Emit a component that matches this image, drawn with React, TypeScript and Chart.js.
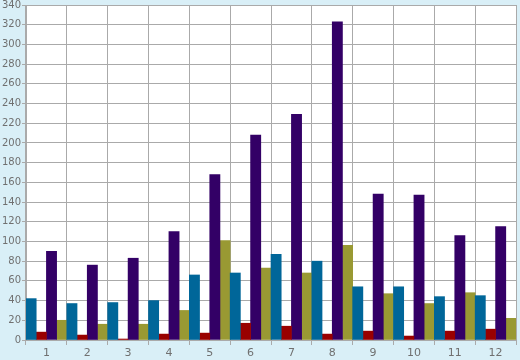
import React, { useEffect, useRef } from "react";
import { Chart, registerables } from "chart.js";

Chart.register(...registerables);

const categories = ["1", "2", "3", "4", "5", "6", "7", "8", "9", "10", "11", "12"];
const seriesBlue = [42, 37, 38, 40, 66, 68, 87, 80, 54, 54, 44, 45];
const seriesRed = [8, 5, 1, 6, 7, 17, 14, 6, 9, 4, 9, 11];
const seriesPurple = [90, 76, 83, 110, 168, 208, 229, 323, 148, 147, 106, 115];
const seriesOlive = [20, 16, 16, 30, 101, 73, 68, 96, 47, 37, 48, 22];

const plotBg = {
  id: "plotBg",
  beforeDraw(chart: any) {
    const { ctx, chartArea } = chart;
    if (!chartArea) return;
    ctx.save();
    ctx.fillStyle = "#ffffff";
    ctx.fillRect(chartArea.left, chartArea.top, chartArea.right - chartArea.left, chartArea.bottom - chartArea.top);
    ctx.restore();
  },
};

export default function App() {
  const ref = useRef<HTMLCanvasElement>(null);
  useEffect(() => {
    if (!ref.current) return;
    const gridColor = "#aaaaaa";
    const chart = new Chart(ref.current, {
      type: "bar",
      data: {
        labels: categories,
        datasets: [
          { data: seriesBlue, backgroundColor: "#006699" },
          { data: seriesRed, backgroundColor: "#990000" },
          { data: seriesPurple, backgroundColor: "#330066" },
          { data: seriesOlive, backgroundColor: "#999933" },
        ],
      },
      options: {
        animation: false,
        responsive: false,
        devicePixelRatio: 1,
        layout: { padding: { top: 5, right: 4, left: 0, bottom: 0 } },
        datasets: { bar: { categoryPercentage: 1, barPercentage: 1, borderWidth: 0 } },
        plugins: { legend: { display: false }, tooltip: { enabled: false } },
        scales: {
          x: {
            grid: { color: gridColor, lineWidth: 1, tickLength: 5, offset: true },
            border: { color: gridColor },
            ticks: { color: "#707070", font: { family: "DejaVu Sans", size: 11 }, padding: 2, maxRotation: 0 },
            afterFit(scale: any) {
              scale.height = 20;
              scale.paddingLeft = 0;
              scale.paddingRight = 0;
            },
          },
          y: {
            min: 0,
            max: 340,
            grid: { color: gridColor, lineWidth: 1, tickLength: 4 },
            border: { color: gridColor },
            ticks: { stepSize: 20, color: "#707070", font: { family: "DejaVu Sans", size: 10 }, padding: 1 },
            afterFit(scale: any) {
              scale.width = 26;
              scale.paddingTop = 0;
              scale.paddingBottom = 0;
            },
          },
        },
      },
      plugins: [plotBg],
    });
    return () => chart.destroy();
  }, []);
  return (
    <div style={{ position: "fixed", left: 0, top: 0, width: 520, height: 360, background: "#d9eff7" }}>
      <canvas ref={ref} width={520} height={360} style={{ display: "block" }} />
    </div>
  );
}
